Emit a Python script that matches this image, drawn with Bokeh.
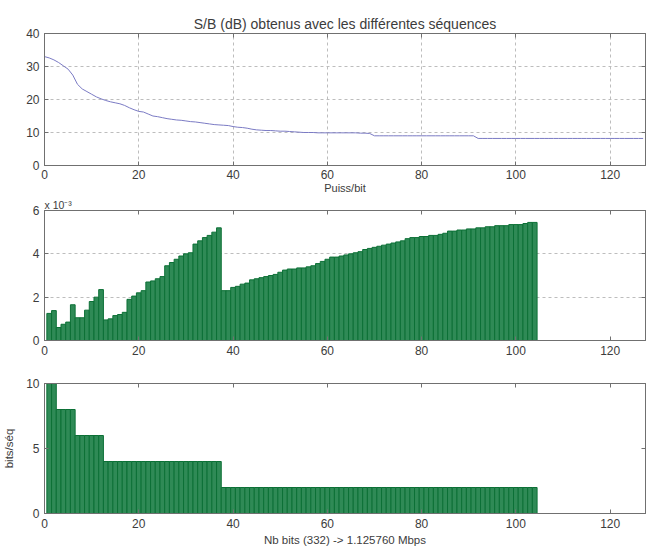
from bokeh.plotting import figure
from bokeh.layouts import column
from bokeh.models import FixedTicker, LinearAxis, Range1d
from bokeh.embed import file_html
from bokeh.resources import INLINE

# ---------------- data ----------------
title_text = "S/B (dB) obtenus avec les différentes séquences"
xlabel_top = "Puiss/bit"
scale_text = "x 10\u207b\u00b3"
xlabel_bottom = "Nb bits (332) -> 1.125760 Mbps"
ylabel_bottom = "bits/séq"

x_ticks = [0, 20, 40, 60, 80, 100, 120]
snr_ticks = [0, 10, 20, 30, 40]
power_ticks = [0, 2, 4, 6]
bits_ticks = [0, 5, 10]

snr_x = list(range(128))
snr_db = [
    33.0, 32.6, 32.0, 31.2, 30.2, 29.2, 27.4, 24.6, 23.2, 22.4,
    21.6, 20.8, 20.2, 19.7, 19.3, 19.0, 18.7, 18.2, 17.5, 16.9,
    16.4, 16.2, 15.6, 15.0, 14.8, 14.5, 14.2, 14.0, 13.8, 13.7,
    13.5, 13.3, 13.2, 13.0, 12.8, 12.6, 12.4, 12.3, 12.2, 12.1,
    11.8, 11.6, 11.5, 11.3, 11.0, 10.8, 10.7, 10.6, 10.6, 10.5,
    10.4, 10.4, 10.3, 10.2, 10.1, 10.0, 10.0, 10.0, 9.9, 9.9,
    9.9, 9.9, 9.9, 9.9, 9.9, 9.9, 9.9, 9.8, 9.8, 9.7,
    9.0, 9.0, 9.0, 9.0, 9.0, 9.0, 9.0, 9.0, 9.0, 9.0,
    9.0, 9.0, 9.0, 9.0, 9.0, 9.0, 9.0, 9.0, 9.0, 9.0,
    9.0, 9.0, 8.2, 8.2, 8.2, 8.2, 8.2, 8.2, 8.2, 8.2,
    8.2, 8.2, 8.2, 8.2, 8.2, 8.2, 8.2, 8.2, 8.2, 8.2,
    8.2, 8.2, 8.2, 8.2, 8.2, 8.2, 8.2, 8.2, 8.2, 8.2,
    8.2, 8.2, 8.2, 8.2, 8.2, 8.2, 8.2, 8.2,
]

bar_x = list(range(1, 105))
power_e3 = [
    1.25, 1.38, 0.60, 0.75, 0.85, 1.65, 1.05, 1.05, 1.40, 1.80, 2.00, 2.35,
    0.95, 1.00, 1.15, 1.20, 1.30, 1.90, 2.05, 2.20, 2.30, 2.70, 2.75, 2.85,
    2.95, 3.45, 3.60, 3.75, 3.90, 4.00, 4.05, 4.45, 4.60, 4.75, 4.85, 5.00,
    5.20,
    2.30, 2.30, 2.45, 2.50, 2.60, 2.65, 2.80, 2.85, 2.90, 2.95, 3.00, 3.05,
    3.15, 3.25, 3.30, 3.30, 3.35, 3.35, 3.40, 3.45, 3.55, 3.65, 3.75, 3.85,
    3.85, 3.90, 3.95, 4.00, 4.05, 4.10, 4.20, 4.25, 4.30, 4.35, 4.40, 4.45,
    4.50, 4.55, 4.60, 4.70, 4.75, 4.75, 4.80, 4.80, 4.85, 4.85, 4.90, 4.95,
    5.05, 5.05, 5.10, 5.10, 5.15, 5.15, 5.20, 5.20, 5.25, 5.25, 5.30, 5.30,
    5.30, 5.35, 5.35, 5.35, 5.40, 5.45, 5.45,
]

bits = [
    10, 10,
    8, 8, 8, 8,
    6, 6, 6, 6, 6, 6,
    4, 4, 4, 4, 4, 4, 4, 4, 4, 4, 4, 4, 4, 4, 4, 4, 4, 4, 4, 4, 4, 4, 4, 4, 4,
    2, 2, 2, 2, 2, 2, 2, 2, 2, 2, 2, 2, 2, 2, 2, 2, 2, 2, 2, 2, 2, 2, 2, 2,
    2, 2, 2, 2, 2, 2, 2, 2, 2, 2, 2, 2, 2, 2, 2, 2, 2, 2, 2, 2, 2, 2, 2, 2,
    2, 2, 2, 2, 2, 2, 2, 2, 2, 2, 2, 2, 2, 2, 2, 2, 2, 2, 2,
]

# ---------------- styling ----------------
FONT = "Liberation Sans"
TXT = "#3c3c3c"
AX = "#707070"
GRID = "#bdbdbd"
BAR_FILL = "#2f8a56"
BAR_LINE = "#0c7036"
LINE_COL = "#7b7bc4"
FW = 601
XR = (0, 127.5)


def make_fig(height_frame, yr, yticks, top, bottom, xgrid, ygrid):
    p = figure(frame_width=FW, frame_height=height_frame,
               x_range=Range1d(*XR), y_range=Range1d(*yr),
               output_backend="svg", toolbar_location=None,
               min_border_left=44, min_border_right=2,
               min_border_top=top, min_border_bottom=bottom,
               background_fill_color="white", border_fill_color="white")
    p.outline_line_color = AX
    p.outline_line_width = 1
    bx = p.below[0]
    ly = p.left[0]
    for ax in (bx, ly):
        ax.axis_line_color = AX
        ax.major_tick_line_color = AX
        ax.major_tick_in = 4
        ax.major_tick_out = 0
        ax.minor_tick_line_color = None
        ax.major_label_text_font = FONT
        ax.major_label_text_font_size = "12px"
        ax.major_label_text_color = TXT
        ax.major_label_standoff = 5
        ax.axis_label_text_font = FONT
        ax.axis_label_text_font_size = "11.5px"
        ax.axis_label_text_font_style = "normal"
        ax.axis_label_text_color = TXT
    bx.ticker = FixedTicker(ticks=x_ticks)
    ly.ticker = FixedTicker(ticks=yticks)
    # box ticks on top and right (no labels drawn)
    top_ax = LinearAxis(ticker=FixedTicker(ticks=x_ticks))
    right_ax = LinearAxis(ticker=FixedTicker(ticks=yticks))
    for ax in (top_ax, right_ax):
        ax.axis_line_color = AX
        ax.major_tick_line_color = AX
        ax.major_tick_in = 4
        ax.major_tick_out = 0
        ax.minor_tick_line_color = None
        ax.major_label_text_font_size = "1px"
        ax.major_label_text_color = None
        ax.major_label_text_alpha = 0
        ax.major_label_standoff = 0
    p.add_layout(top_ax, "above")
    p.add_layout(right_ax, "right")
    p.xgrid.visible = xgrid
    p.ygrid.visible = ygrid
    p.grid.grid_line_color = GRID
    p.grid.grid_line_dash = "3 3"
    p.grid.grid_line_width = 1
    return p, bx, ly


# top panel
p1, bx1, ly1 = make_fig(132, (0, 40), snr_ticks, 33, 30, True, True)
p1.title.text = title_text
p1.title.align = "center"
p1.title.text_font = FONT
p1.title.text_font_size = "14px"
p1.title.text_font_style = "normal"
p1.title.text_color = TXT
p1.title.standoff = 4
bx1.axis_label = xlabel_top
bx1.major_label_standoff = 4
bx1.axis_label_standoff = 0
bx1.axis_label_text_font_size = "11px"
p1.line(snr_x, snr_db, line_color=LINE_COL, line_width=1)

# middle panel
p2, bx2, ly2 = make_fig(130, (0, 6), power_ticks, 12, 22, False, True)
p2.title.text = scale_text
p2.title.align = "left"
p2.title.text_font = FONT
p2.title.text_font_size = "10.5px"
p2.title.text_font_style = "normal"
p2.title.text_color = TXT
p2.title.standoff = 0
p2.vbar(x=bar_x, top=power_e3, width=1, bottom=0,
        fill_color=BAR_FILL, line_color=BAR_LINE, line_width=1)

# bottom panel
p3, bx3, ly3 = make_fig(130, (0, 10), bits_ticks, 21, 37, False, False)
p3.vbar(x=bar_x, top=bits, width=1, bottom=0,
        fill_color=BAR_FILL, line_color=BAR_LINE, line_width=1)
bx3.axis_label = xlabel_bottom
bx3.axis_label_standoff = 3
ly3.axis_label = ylabel_bottom
ly3.axis_label_standoff = 8

layout = column(p1, p2, p3, spacing=0)
open("out.html", "w").write(file_html(layout, INLINE))
